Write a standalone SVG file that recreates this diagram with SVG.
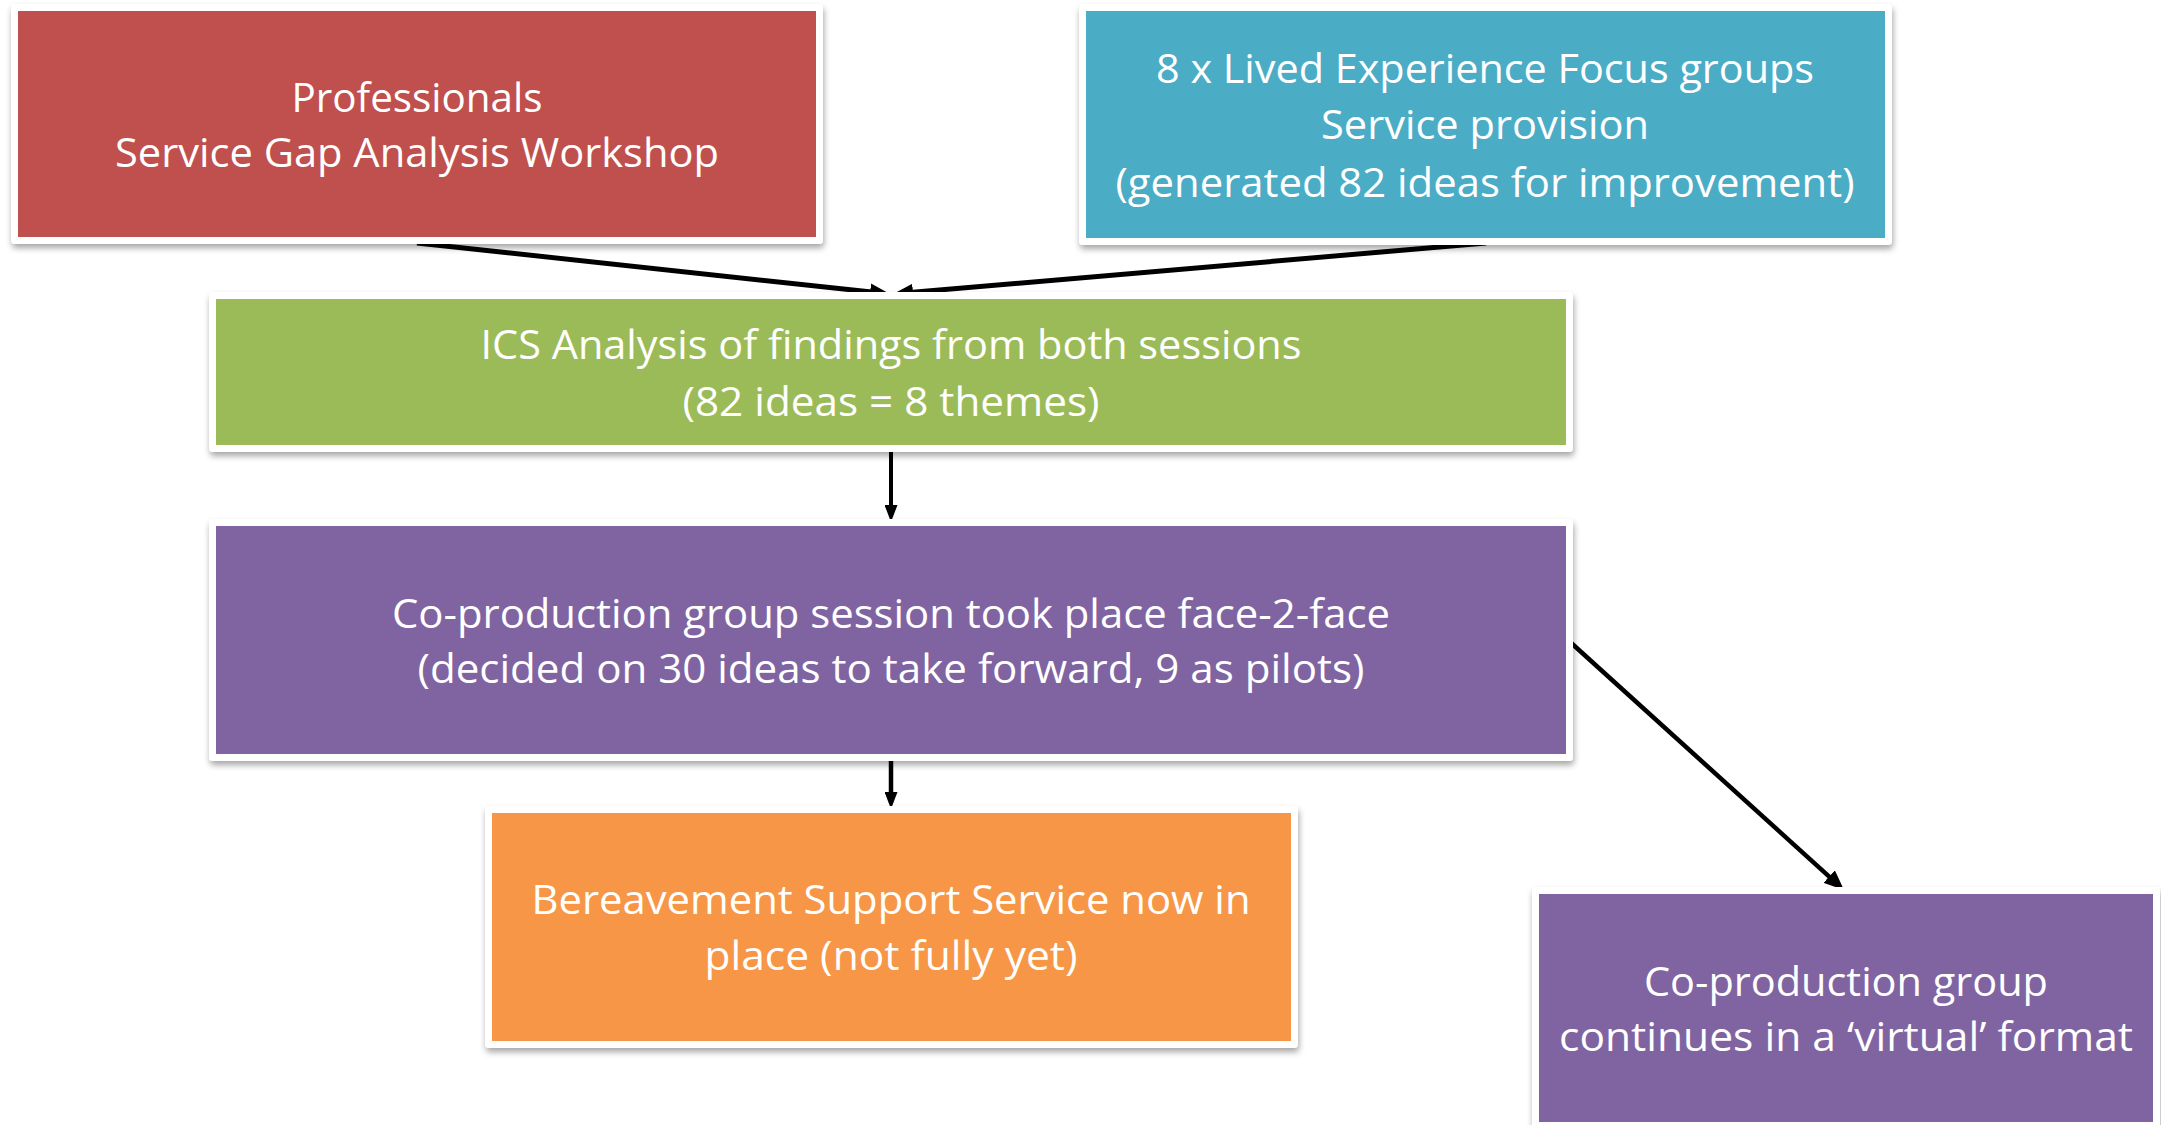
<svg xmlns="http://www.w3.org/2000/svg" width="2161" height="1125" viewBox="0 0 2161 1125">
  <defs>
    <filter id="sh" x="-5%" y="-10%" width="110%" height="125%">
      <feDropShadow dx="1" dy="4" stdDeviation="3" flood-color="#000" flood-opacity="0.35"/>
    </filter>
    <marker id="ah" markerUnits="userSpaceOnUse" markerWidth="20" markerHeight="17" refX="6" refY="8.5" orient="auto" viewBox="0 0 20 17">
      <path d="M0,0 L20,8.5 L0,17 z" fill="#000"/>
    </marker>
    <marker id="ahs" markerUnits="userSpaceOnUse" markerWidth="17" markerHeight="13" refX="5" refY="6.5" orient="auto" viewBox="0 0 17 13">
      <path d="M0,0 L17,6.5 L0,13 z" fill="#000"/>
    </marker>
  </defs>
  <style>
    .frame { fill: #ffffff; filter: url(#sh); }
    .t { font-family: "Open Sans", "Noto Sans", sans-serif; font-size: 40px; fill: #ffffff; text-anchor: middle; }
    .c { fill: none; stroke: #000; }
  </style>
  <rect width="2161" height="1125" fill="#ffffff"/>

  <g id="connectors">
    <line class="c" x1="417" y1="243" x2="876.1" y2="292.5" stroke-width="5" marker-end="url(#ah)"/>
    <line class="c" x1="1486" y1="243" x2="907" y2="292.8" stroke-width="5" marker-end="url(#ah)"/>
    <line class="c" x1="891" y1="449" x2="891" y2="510" stroke-width="4" marker-end="url(#ahs)"/>
    <line class="c" x1="891" y1="759" x2="891" y2="797" stroke-width="4.5" marker-end="url(#ahs)"/>
    <line class="c" x1="1569" y1="641" x2="1833.6" y2="880.6" stroke-width="4.5" marker-end="url(#ah)"/>
  </g>

  <g id="professionals">
    <rect class="frame" x="11" y="4" width="812" height="240" rx="4"/>
    <rect x="18" y="11" width="798" height="226" fill="#C0504D"/>
    <text class="t" x="417" y="112" textLength="251" lengthAdjust="spacingAndGlyphs">Professionals</text>
    <text class="t" x="417" y="167" textLength="604" lengthAdjust="spacingAndGlyphs">Service Gap Analysis Workshop</text>
  </g>

  <g id="lived-experience">
    <rect class="frame" x="1079" y="4" width="813" height="241" rx="4"/>
    <rect x="1086" y="11" width="799" height="227" fill="#4BACC6"/>
    <text class="t" x="1485" y="83" textLength="658" lengthAdjust="spacingAndGlyphs">8 x Lived Experience Focus groups</text>
    <text class="t" x="1485" y="139" textLength="328" lengthAdjust="spacingAndGlyphs">Service provision</text>
    <text class="t" x="1485" y="197" textLength="739" lengthAdjust="spacingAndGlyphs">(generated 82 ideas for improvement)</text>
  </g>

  <g id="ics-analysis">
    <rect class="frame" x="209" y="292" width="1364" height="160" rx="4"/>
    <rect x="216" y="299" width="1350" height="146" fill="#9BBB59"/>
    <text class="t" x="891" y="359" textLength="821" lengthAdjust="spacingAndGlyphs">ICS Analysis of findings from both sessions</text>
    <text class="t" x="891" y="416" textLength="417" lengthAdjust="spacingAndGlyphs">(82 ideas = 8 themes)</text>
  </g>

  <g id="coproduction-session">
    <rect class="frame" x="209" y="519" width="1364" height="242" rx="4"/>
    <rect x="216" y="526" width="1350" height="228" fill="#8064A2"/>
    <text class="t" x="891" y="628" textLength="998" lengthAdjust="spacingAndGlyphs">Co-production group session took place face-2-face</text>
    <text class="t" x="891" y="683" textLength="947" lengthAdjust="spacingAndGlyphs">(decided on 30 ideas to take forward, 9 as pilots)</text>
  </g>

  <g id="bereavement">
    <rect class="frame" x="485" y="806" width="813" height="242" rx="4"/>
    <rect x="492" y="813" width="799" height="228" fill="#F79646"/>
    <text class="t" x="891" y="914" textLength="719" lengthAdjust="spacingAndGlyphs">Bereavement Support Service now in</text>
    <text class="t" x="891" y="970" textLength="373" lengthAdjust="spacingAndGlyphs">place (not fully yet)</text>
  </g>

  <g id="coproduction-virtual">
    <rect class="frame" x="1532" y="887" width="628" height="242" rx="4"/>
    <rect x="1539" y="894" width="614" height="228" fill="#8064A2"/>
    <text class="t" x="1846" y="996" textLength="404" lengthAdjust="spacingAndGlyphs">Co-production group</text>
    <text class="t" x="1846" y="1051" textLength="574" lengthAdjust="spacingAndGlyphs">continues in a ‘virtual’ format</text>
  </g>
</svg>
